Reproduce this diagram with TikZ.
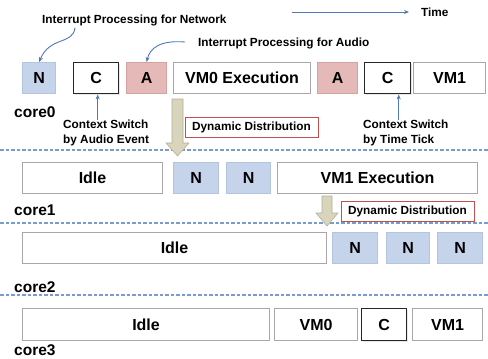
\documentclass[tikz,border=0pt]{standalone}
\usepackage{fontspec}
\setmainfont{Liberation Sans}
\usetikzlibrary{arrows.meta,calc,shadows}
\definecolor{boxgray}{HTML}{A8A8A8}
\definecolor{nfill}{HTML}{C5D4EA}
\definecolor{nborder}{HTML}{B2C4DE}
\definecolor{afill}{HTML}{E5B9B8}
\definecolor{aborder}{HTML}{D6A2A1}
\definecolor{dashcol}{HTML}{7A9BD0}
\definecolor{arrblue}{HTML}{4F78B5}
\definecolor{khakifill}{HTML}{D9D5BD}
\definecolor{khakidraw}{HTML}{B3AF98}
\definecolor{distred}{HTML}{C0504D}
\tikzset{
  bx/.style={anchor=north west, inner sep=0pt, font=\bfseries\fontsize{16}{19}\selectfont,
    line width=1.1pt, drop shadow={shadow xshift=0.8pt, shadow yshift=-0.8pt, fill=black!18}},
  plainbox/.style={bx, draw=boxgray, fill=white},
  nbox/.style={bx, draw=nborder, fill=nfill},
  abox/.style={bx, draw=aborder, fill=afill},
  cbox/.style={bx, draw=black!85, line width=1.4pt, fill=white},
  corelbl/.style={anchor=west, inner sep=0pt, font=\bfseries\fontsize{15.5}{18}\selectfont},
  smalllbl/.style={inner sep=0pt, font=\bfseries\fontsize{11.8}{15}\selectfont},
  distbox/.style={draw=distred, line width=0.9pt, fill=white, inner sep=0pt,
    minimum width=133pt, minimum height=20pt, font=\bfseries\fontsize{11.8}{14}\selectfont},
  sepline/.style={dashcol, line width=1.1pt, dash pattern=on 3.5pt off 2pt},
  blarrow/.style={arrblue, line width=0.9pt, -{Stealth[length=5pt,width=4pt]}},
  bigarrow/.style={fill=khakifill, draw=khakidraw, line width=0.6pt}
}
\begin{document}
\begin{tikzpicture}[x=1pt,y=-1pt]
\useasboundingbox (0,0) rectangle (488,359);
% separator lines
\draw[sepline] (0,150) -- (488,150);
\draw[sepline] (0,223) -- (488,223);
\draw[sepline] (0,295) -- (488,295);
% row 0
\node[nbox, minimum width=33pt, minimum height=31pt] (n0) at (22,62) {N};
\node[cbox, minimum width=45pt, minimum height=31pt] (c0) at (73,62) {C};
\node[abox, minimum width=40pt, minimum height=31pt] (a0) at (126,62) {A};
\node[plainbox, minimum width=137pt, minimum height=31pt] (vm0e) at (173,62) {VM0 Execution};
\node[abox, minimum width=40pt, minimum height=31pt] (a1) at (317,62) {A};
\node[cbox, minimum width=46pt, minimum height=31pt] (c1) at (364,62) {C};
\node[plainbox, minimum width=72pt, minimum height=31pt] (vm1a) at (413,62) {VM1};
\node[corelbl] (core0) at (14,112) {core0};
% row 1
\node[plainbox, minimum width=140pt, minimum height=31pt] (idle1) at (22,162) {Idle};
\node[nbox, minimum width=45pt, minimum height=31pt] (n11) at (173,162) {N};
\node[nbox, minimum width=44pt, minimum height=31pt] (n12) at (226,162) {N};
\node[plainbox, minimum width=200pt, minimum height=31pt] (vm1e) at (277,162) {VM1 Execution};
\node[corelbl] (core1) at (14,210) {core1};
% row 2
\node[plainbox, minimum width=304pt, minimum height=31pt] (idle2) at (22,232) {Idle};
\node[nbox, minimum width=45pt, minimum height=31pt] (n21) at (332,232) {N};
\node[nbox, minimum width=43pt, minimum height=31pt] (n22) at (386,232) {N};
\node[nbox, minimum width=45pt, minimum height=31pt] (n23) at (437,232) {N};
\node[corelbl] (core2) at (14,287) {core2};
% row 3
\node[plainbox, minimum width=247pt, minimum height=32pt] (idle3) at (22,308) {Idle};
\node[plainbox, minimum width=83pt, minimum height=32pt] (vm0b) at (274,308) {VM0};
\node[cbox, minimum width=45pt, minimum height=32pt] (c3) at (361,308) {C};
\node[plainbox, minimum width=70pt, minimum height=32pt] (vm1b) at (412,308) {VM1};
\node[corelbl] (core3) at (14,350) {core3};
% big khaki arrows
\draw[bigarrow] (172,99) -- (183,99) -- (183,143) -- (189,143) -- (177.5,156) -- (166,143) -- (172,143) -- cycle;
\draw[bigarrow] (322,196) -- (332,196) -- (332,213) -- (338,213) -- (327,226) -- (316,213) -- (322,213) -- cycle;
% dynamic distribution boxes
\node[distbox] (dd1) at (251.5,127) {Dynamic Distribution};
\node[distbox] (dd2) at (407.5,211) {Dynamic Distribution};
% labels
\node[smalllbl, anchor=west] (inet) at (42,20) {Interrupt Processing for Network};
\node[smalllbl, anchor=west] (iaud) at (198,43) {Interrupt Processing for Audio};
\node[smalllbl, anchor=north west, align=left] (ctxa) at (63,120) {Context Switch\\by Audio Event};
\node[smalllbl, anchor=north west, align=left] (ctxt) at (363,120) {Context Switch\\by Time Tick};
\node[smalllbl, anchor=west] (time) at (421,12) {Time};
\coordinate (tstart) at (292,12);
% blue arrows
\draw[blarrow] ($(inet.south west)+(33,2)$) .. controls (73,45) and (50,36) .. (n0.north);
\draw[blarrow] ($(iaud.west)+(-13,-1)$) .. controls (160,40) and (150,48) .. (a0.north);
\draw[blarrow] (ctxa.north -| c0.south) ++(1.5,0) -- ($(c0.south)+(1.5,0)$);
\coordinate (ctp) at ($(c1.south)+(11,0)$);
\draw[blarrow] (ctxt.north -| ctp) -- (ctp);
\draw[blarrow] (tstart) -- ($(time.west)+(-12,0)$);
\end{tikzpicture}
\end{document}
